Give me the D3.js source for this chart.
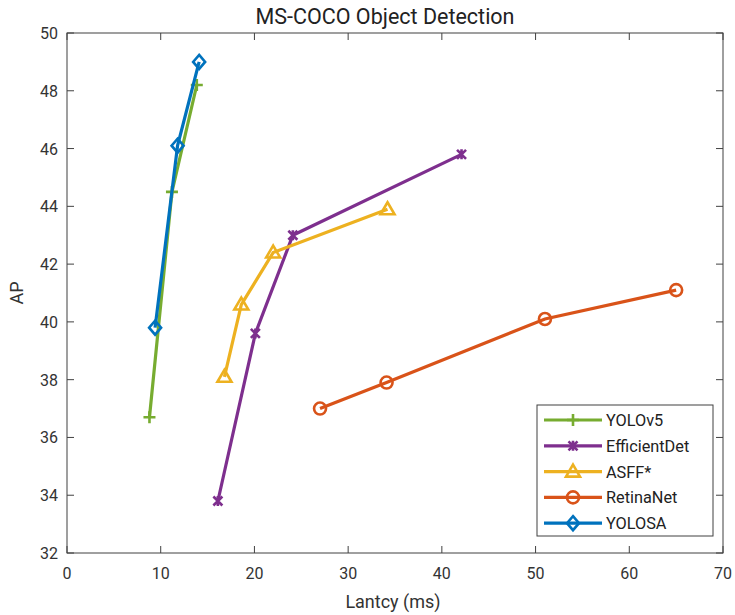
<!DOCTYPE html>
<html><head><meta charset="utf-8">
<script src="https://cdn.jsdelivr.net/npm/d3@7"></script>
<style>body{margin:0;background:#fff}svg{font-family:Roboto,"Open Sans",sans-serif}</style>
</head><body><svg id="c" width="735" height="615"></svg>
<script>
const xTicks=[0,10,20,30,40,50,60,70];
const yTicks=[32,34,36,38,40,42,44,46,48,50];
const seriesNames=["YOLOv5","EfficientDet","ASFF*","RetinaNet","YOLOSA"];
const seriesColors=["#77AC30","#7E2F8E","#EDB120","#D95319","#0072BD"];
const seriesMarkers=["plus","x","triangle","circle","diamond"];
const yolov5Lat=[8.8,11.2,13.85];
const yolov5AP=[36.7,44.5,48.2];
const effdetLat=[16.1,20.1,24.1,42.1];
const effdetAP=[33.8,39.6,43.0,45.8];
const asffLat=[16.8,18.6,22.0,34.2];
const asffAP=[38.1,40.6,42.4,43.9];
const retinaLat=[27,34.1,51,65];
const retinaAP=[37.0,37.9,40.1,41.1];
const yolosaLat=[9.4,11.8,14.1];
const yolosaAP=[39.8,46.1,49.0];
const lats=[yolov5Lat,effdetLat,asffLat,retinaLat,yolosaLat];
const aps=[yolov5AP,effdetAP,asffAP,retinaAP,yolosaAP];

const L=67,R=723,T=33,B=553;
const x=d3.scaleLinear().domain([0,70]).range([L,R]);
const y=d3.scaleLinear().domain([32,50]).range([B,T]);
const svg=d3.select("#c");
const axC="#404040";

function marker(g,type,color,cx,cy){
  const s=6;
  let p;
  if(type==="plus") p=`M${cx-s},${cy}H${cx+s}M${cx},${cy-s}V${cy+s}`;
  else if(type==="x") p=`M${cx-4.5},${cy-4.5}L${cx+4.5},${cy+4.5}M${cx-4.5},${cy+4.5}L${cx+4.5},${cy-4.5}M${cx},${cy-5}V${cy+5}`;
  else if(type==="triangle") p=`M${cx},${cy-7}L${cx+7},${cy+5}L${cx-7},${cy+5}Z`;
  else if(type==="circle") p=`M${cx-6},${cy}A6,6 0 1,0 ${cx+6},${cy}A6,6 0 1,0 ${cx-6},${cy}Z`;
  else p=`M${cx},${cy-7}L${cx+6},${cy}L${cx},${cy+7}L${cx-6},${cy}Z`;
  g.append("path").attr("d",p).attr("fill","none").attr("stroke",color).attr("stroke-width",2.6);
}

svg.append("rect").attr("x",L).attr("y",T).attr("width",R-L).attr("height",B-T).attr("fill","none").attr("stroke",axC).attr("stroke-width",1);
xTicks.forEach(t=>{
  svg.append("line").attr("x1",x(t)).attr("x2",x(t)).attr("y1",B).attr("y2",B-7).attr("stroke",axC);
  svg.append("line").attr("x1",x(t)).attr("x2",x(t)).attr("y1",T).attr("y2",T+7).attr("stroke",axC);
  svg.append("text").attr("x",x(t)).attr("y",B+26).attr("text-anchor","middle").attr("font-size",16).attr("fill","#333").text(t);
});
yTicks.forEach(t=>{
  svg.append("line").attr("x1",L).attr("x2",L+7).attr("y1",y(t)).attr("y2",y(t)).attr("stroke",axC);
  svg.append("line").attr("x1",R).attr("x2",R-7).attr("y1",y(t)).attr("y2",y(t)).attr("stroke",axC);
  svg.append("text").attr("x",L-9).attr("y",y(t)+6).attr("text-anchor","end").attr("font-size",16).attr("fill","#333").text(t);
});
svg.append("text").attr("x",(L+R)/2-10).attr("y",24).attr("text-anchor","middle").attr("font-size",21.5).attr("fill","#222").text("MS-COCO Object Detection");
svg.append("text").attr("x",(L+R)/2-2).attr("y",608).attr("text-anchor","middle").attr("font-size",18).attr("fill","#333").text("Lantcy (ms)");
svg.append("text").attr("transform",`translate(23,${(T+B)/2}) rotate(-90)`).attr("text-anchor","middle").attr("font-size",18).attr("fill","#333").text("AP");

const line=d3.line().x(d=>x(d[0])).y(d=>y(d[1]));
seriesNames.forEach((n,i)=>{
  const pts=lats[i].map((v,j)=>[v,aps[i][j]]);
  const g=svg.append("g");
  g.append("path").attr("d",line(pts)).attr("fill","none").attr("stroke",seriesColors[i]).attr("stroke-width",3.2);
  pts.forEach(p=>marker(g,seriesMarkers[i],seriesColors[i],x(p[0]),y(p[1])));
});

const lx=537,ly=405,lw=176,lh=131;
svg.append("rect").attr("x",lx).attr("y",ly).attr("width",lw).attr("height",lh).attr("fill","#fff").attr("stroke",axC).attr("stroke-width",1);
seriesNames.forEach((n,i)=>{
  const yy=ly+15+i*25.8;
  svg.append("line").attr("x1",lx+7).attr("x2",lx+65).attr("y1",yy).attr("y2",yy).attr("stroke",seriesColors[i]).attr("stroke-width",3.2);
  marker(svg,seriesMarkers[i],seriesColors[i],lx+36,yy);
  svg.append("text").attr("x",lx+69).attr("y",yy+6).attr("font-size",16.3).attr("fill","#222").text(n);
});
</script></body></html>
